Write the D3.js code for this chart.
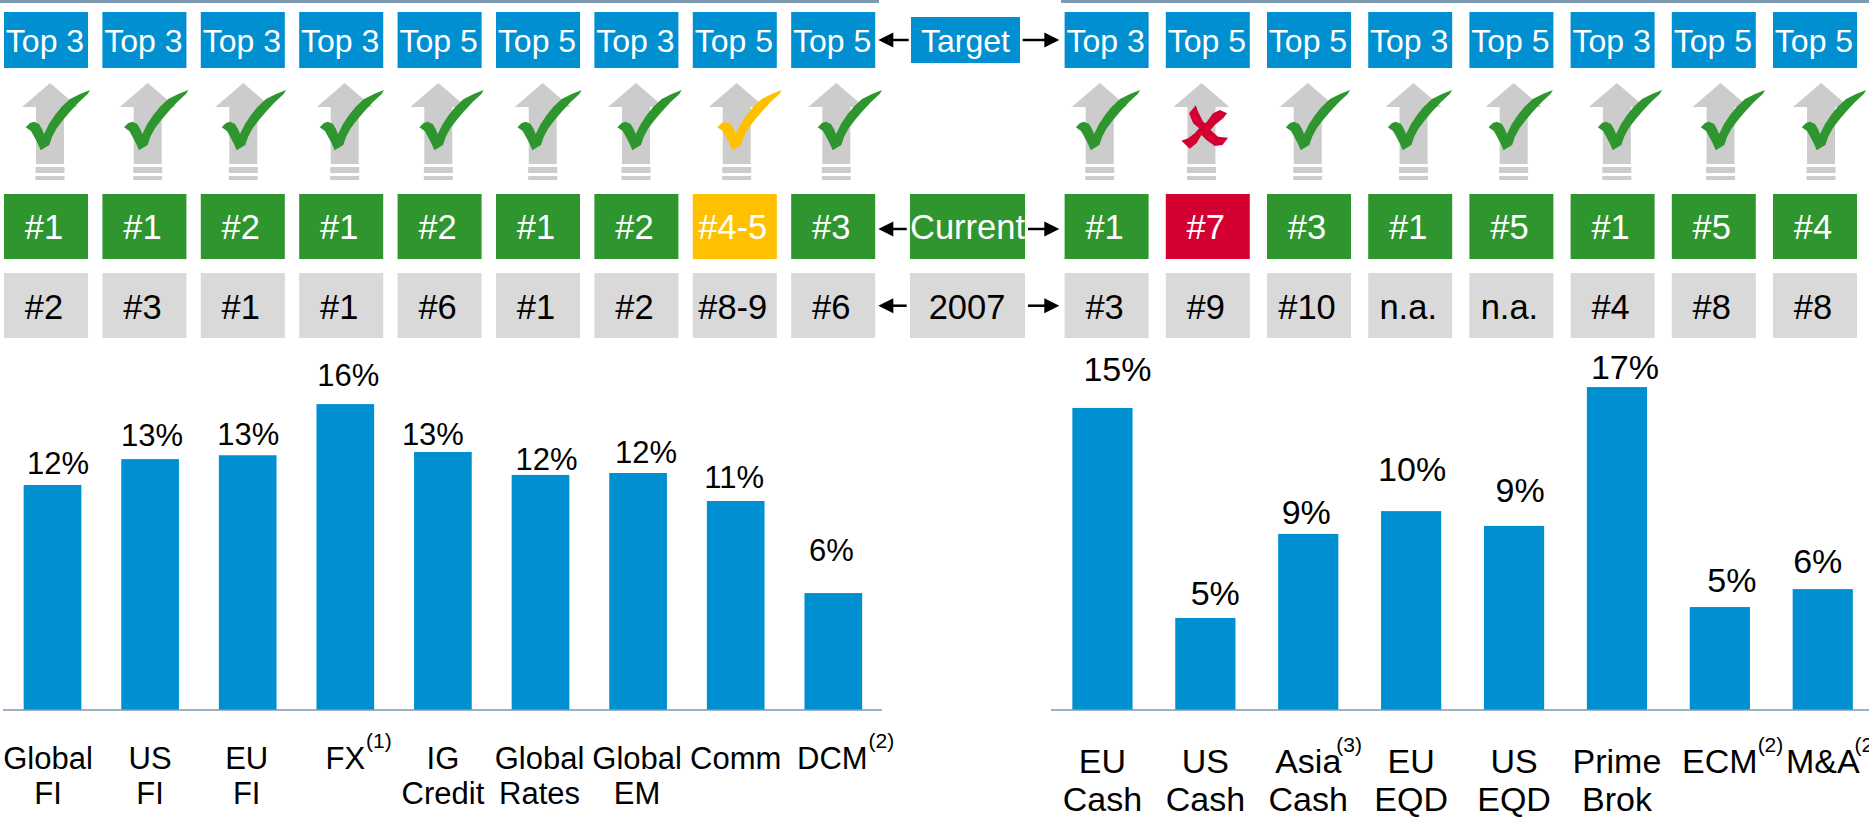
<!DOCTYPE html>
<html>
<head>
<meta charset="utf-8">
<script src="https://cdn.jsdelivr.net/npm/d3@7"></script>
<style>
html,body{margin:0;padding:0;background:#fff;overflow:hidden}
text{font-family:"Liberation Sans",Arial,sans-serif}
</style>
</head>
<body>
<svg id="c" width="1869" height="818"></svg>
<script>
// ---------- data ----------
const leftCategories  = [["Global","FI"],["US","FI"],["EU","FI"],["FX"],["IG","Credit"],["Global","Rates"],["Global","EM"],["Comm"],["DCM"]];
const leftNotes       = ["","","","(1)","","","","","(2)"];
const leftValues      = [11.66,13.0,13.2,15.85,13.37,12.18,12.28,10.83,6.06];
const leftTarget      = ["Top 3","Top 3","Top 3","Top 3","Top 5","Top 5","Top 3","Top 5","Top 5"];
const leftCurrent     = ["#1","#1","#2","#1","#2","#1","#2","#4-5","#3"];
const leftStatus      = ["met","met","met","met","met","met","met","partial","met"];
const left2007        = ["#2","#3","#1","#1","#6","#1","#2","#8-9","#6"];

const rightCategories = [["EU","Cash"],["US","Cash"],["Asia","Cash"],["EU","EQD"],["US","EQD"],["Prime","Brok"],["ECM"],["M&A"]];
const rightNotes      = ["","","(3)","","","","(2)","(2)"];
const rightValues     = [15.49,4.72,9.03,10.2,9.44,16.56,5.28,6.2];
const rightTarget     = ["Top 3","Top 5","Top 5","Top 3","Top 5","Top 3","Top 5","Top 5"];
const rightCurrent    = ["#1","#7","#3","#1","#5","#1","#5","#4"];
const rightStatus     = ["met","missed","met","met","met","met","met","met"];
const right2007       = ["#3","#9","#10","n.a.","n.a.","#4","#8","#8"];

const rowLabels = ["Target","Current","2007"];

// ---------- layout offsets (not data) ----------
const leftLayout = {
  arrowDx:[-2.5,-2.4,-4.4,-0.6,-4.6,2.2,-2.1,1,3],
  checkDx:[37.5,38.2,38.3,38.7,40.8,41.2,43.6,46,48.7],
  labelDx:[5.5,2,0.6,3,-10,6,8,-1.5,-2],
  labelGap:[11,13,10,18,7,5,10,13,32],
  catDx:[-4.5,0,-1,0,0,-1,-1,0,-1],
  noteDx:[0,0,0,0,0,0,0,0,0]
};
const rightLayout = {
  arrowDx:[-2.7,-3.9,-0.5,2.4,-0.4,-0.1,0.7,-1.7],
  checkDx:[37.6,0,41.8,40.9,38.8,45.1,45.2,43.3],
  labelDx:[15,9.9,-2,1,6,8,12,-5],
  labelGap:[27,13,10,30,24,8,15,16],
  catDx:[0,0,0,0,0,0,0,0],
  noteDx:[0,0,-6,0,0,0,-1,-6]
};

const BLUE="#0090d2", GREEN="#2f962f", GOLD="#ffc000", RED="#d50032", GREY="#d9d9d9", ARROW="#cccccc", RULE="#7f99b0";
const statusColor={met:GREEN,partial:GOLD,missed:RED};

const svg=d3.select("#c");
const poly=d3.line();

// top rules
svg.append("rect").attr("x",0).attr("y",0).attr("width",879).attr("height",3).attr("fill",RULE);
svg.append("rect").attr("x",1061).attr("y",0).attr("width",808).attr("height",3).attr("fill",RULE);

const upArrow=[[0,83],[28,107],[14,107],[14,164],[-14,164],[-14,107],[-28,107]];
const checkMark=[[-64.3,127.3],[-60,123],[-56,121.7],[-51,124],[-48,129],[-46,134],[-41,124],[-35,115],[-28.3,106.7],[-20,99],[-10,94],[0,90],[-2.3,94],[-11,102],[-20,111.7],[-27,120],[-33.3,128.3],[-38,137],[-40.7,145],[-49.3,150.3],[-52,144],[-55,138.3],[-59,131]];
const crossMark=[[168,106],[175,125],[190,155],[198,160],[220,130],[240,120],[262,130],[250,145],[225,165],[212,180],[235,200],[265,203],[248,225],[225,228],[200,210],[185,195],[170,220],[150,236],[125,212],[145,205],[165,190],[178,175],[160,160],[148,130]]
  .map(([x,y])=>[(x-185)/3,70+y/3]);

function panel(o){
  const n=o.categories.length, ids=d3.range(n);
  // rows of boxes
  const bx=d3.scaleBand().domain(ids).range(o.boxRange).paddingInner(o.boxPad).paddingOuter(0);
  // bars
  const x=d3.scaleBand().domain(ids).range(o.barRange).paddingInner(o.barPad).paddingOuter(o.barPad/2);
  const y=d3.scaleLinear().domain([0,16]).range([710,710-16*o.pxPerPct]);
  const cx=i=>x(i)+x.bandwidth()/2;

  const rows=[
    {vals:o.target, y:12, h:56, fill:()=>BLUE, txt:"#fff", by:51.7, fs:32, dx:-1},
    {vals:o.current,y:194,h:65, fill:i=>statusColor[o.status[i]], txt:"#fff", by:238.7, fs:34.5, dx:-2},
    {vals:o.y2007,  y:273,h:65, fill:()=>GREY, txt:"#000", by:319, fs:34.5, dx:-2}
  ];
  rows.forEach(r=>{
    const g=svg.append("g");
    g.selectAll("rect").data(ids).join("rect")
      .attr("x",i=>bx(i)).attr("y",r.y).attr("width",bx.bandwidth()).attr("height",r.h)
      .attr("fill",i=>r.fill(i));
    g.selectAll("text").data(ids).join("text")
      .attr("x",i=>bx(i)+bx.bandwidth()/2+r.dx).attr("y",r.by)
      .attr("text-anchor","middle").attr("font-size",r.fs).attr("fill",r.txt)
      .text(i=>r.vals[i]);
  });

  // arrows + marks
  ids.forEach(i=>{
    const ax=cx(i)+o.layout.arrowDx[i];
    const g=svg.append("g").attr("transform",`translate(${ax},0)`);
    g.append("path").attr("d",poly(upArrow)+"Z").attr("fill",ARROW);
    g.append("rect").attr("x",-14.5).attr("y",167).attr("width",29).attr("height",6).attr("fill",ARROW);
    g.append("rect").attr("x",-14.5).attr("y",176).attr("width",29).attr("height",4).attr("fill",ARROW);
    if(o.status[i]==="missed"){
      g.append("path").attr("d",poly(crossMark)+"Z").attr("fill",RED);
    } else {
      svg.append("path").attr("transform",`translate(${cx(i)+o.layout.checkDx[i]},0)`)
        .attr("d",poly(checkMark)+"Z").attr("fill",statusColor[o.status[i]]);
    }
  });

  // bars
  svg.append("g").selectAll("rect").data(ids).join("rect")
    .attr("x",i=>x(i)).attr("width",x.bandwidth())
    .attr("y",i=>y(o.values[i])).attr("height",i=>y(0)-y(o.values[i]))
    .attr("fill",BLUE);

  // value labels
  const pct=d3.format(".0f");
  svg.append("g").selectAll("text").data(ids).join("text")
    .attr("x",i=>cx(i)+o.layout.labelDx[i])
    .attr("y",i=>y(o.values[i])-o.layout.labelGap[i])
    .attr("text-anchor","middle").attr("font-size",o.valueFont).attr("fill","#000")
    .text(i=>pct(o.values[i])+"%");

  // baseline axis with category labels
  const axis=d3.axisBottom(x).tickSize(0).tickFormat("");
  const ag=svg.append("g").attr("transform","translate(0,710)").call(axis);
  ag.select(".domain").attr("d",`M${o.axisRange[0]},0H${o.axisRange[1]}`).attr("stroke",RULE).attr("stroke-width",1.5).attr("fill","none");
  ag.selectAll(".tick text").remove();
  ag.selectAll(".tick").each(function(i){
    const t=d3.select(this);
    let w=0;
    o.categories[i].forEach((ln,k)=>{
      const el=t.append("text").attr("x",o.layout.catDx[i]).attr("y",o.catY[k])
        .attr("text-anchor","middle").attr("font-size",o.catFont).attr("fill","#000").text(ln);
      if(k===0) w=el.node().getComputedTextLength();
    });
    if(o.notes[i]){
      t.append("text").attr("x",o.layout.catDx[i]+w/2+1+o.layout.noteDx[i]).attr("y",o.noteY)
        .attr("text-anchor","start").attr("font-size",o.noteFont).attr("fill","#000").text(o.notes[i]);
    }
  });
}

panel({categories:leftCategories,notes:leftNotes,values:leftValues,target:leftTarget,current:leftCurrent,status:leftStatus,y2007:left2007,
  boxRange:[4,875.2],boxPad:.146,barRange:[3.7,882.1],barPad:.409,pxPerPct:19.3,valueFont:31,catFont:31,catY:[59,94],noteY:37.5,noteFont:21,
  axisRange:[3,882],layout:leftLayout});
panel({categories:rightCategories,notes:rightNotes,values:rightValues,target:rightTarget,current:rightCurrent,status:rightStatus,y2007:right2007,
  boxRange:[1064.6,1857],boxPad:.17,barRange:[1051,1874.2],barPad:.415,pxPerPct:19.5,valueFont:34,catFont:34,catY:[62.5,100.5],noteY:42,noteFont:21,
  axisRange:[1051,1869],layout:rightLayout});

// row header boxes and connectors
const rowBoxes=[
 {t:rowLabels[0],x:911,w:109,y:17,h:46,fill:BLUE,txt:"#fff",by:51.7,fs:32,ay:40,lx:908.7,rx:1022.7,tx:965.5},
 {t:rowLabels[1],x:910,w:115,y:194,h:65,fill:GREEN,txt:"#fff",by:238.7,fs:34.5,ay:229,lx:906.7,rx:1028,tx:967.5},
 {t:rowLabels[2],x:910,w:115,y:273,h:65,fill:GREY,txt:"#000",by:319,fs:34.5,ay:305.7,lx:906.7,rx:1028,tx:967}
];
rowBoxes.forEach(b=>{
  svg.append("rect").attr("x",b.x).attr("y",b.y).attr("width",b.w).attr("height",b.h).attr("fill",b.fill);
  svg.append("text").attr("x",b.tx).attr("y",b.by).attr("text-anchor","middle").attr("font-size",b.fs).attr("fill",b.txt).text(b.t);
  svg.append("line").attr("x1",b.lx).attr("x2",885).attr("y1",b.ay).attr("y2",b.ay).attr("stroke","#000").attr("stroke-width",2.5);
  svg.append("path").attr("d",poly([[878.3,b.ay],[893.3,b.ay-7.5],[893.3,b.ay+7.5]])+"Z").attr("fill","#000");
  svg.append("line").attr("x1",b.rx).attr("x2",1052).attr("y1",b.ay).attr("y2",b.ay).attr("stroke","#000").attr("stroke-width",2.5);
  svg.append("path").attr("d",poly([[1059.3,b.ay],[1044.3,b.ay-7.5],[1044.3,b.ay+7.5]])+"Z").attr("fill","#000");
});
</script>
</body>
</html>
